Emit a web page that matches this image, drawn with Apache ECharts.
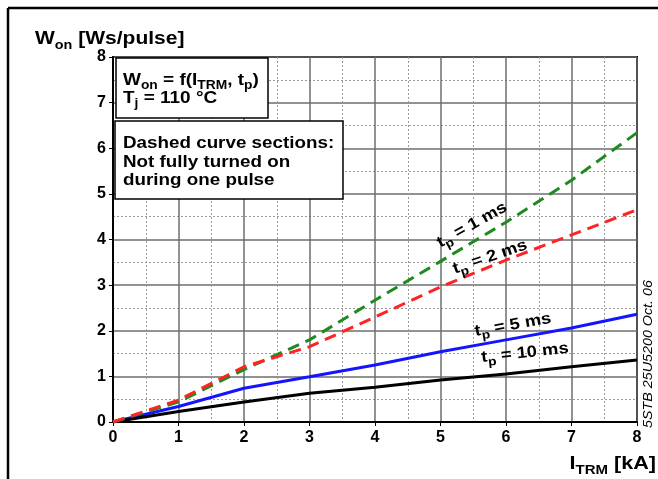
<!DOCTYPE html>
<html><head><meta charset="utf-8">
<script src="https://cdn.jsdelivr.net/npm/echarts@6/dist/echarts.min.js"></script>
<style>html,body{margin:0;padding:0;background:#fff}#c{width:658px;height:479px}</style>
</head><body><div id="c"></div>
<script>
var currents = [0, 1, 2, 3, 4, 5, 6, 7, 8];
var won_1ms  = [0, 0.44, 1.15, 1.80, 2.67, 3.52, 4.38, 5.30, 6.34];
var won_2ms  = [0, 0.48, 1.21, 1.65, 2.30, 2.96, 3.55, 4.10, 4.65];
var won_5ms  = [0, 0.34, 0.74, 0.99, 1.25, 1.54, 1.80, 2.06, 2.36];
var won_10ms = [0, 0.23, 0.44, 0.63, 0.76, 0.92, 1.05, 1.21, 1.36];
var xTicks = [0, 1, 2, 3, 4, 5, 6, 7, 8];
var yTicks = [0, 1, 2, 3, 4, 5, 6, 7, 8];

function pairs(ys){ return currents.map(function(x,i){return [x, ys[i]];}); }
var F = 'Liberation Sans, Arial, sans-serif';
function mkRich(size, sub){
  var L = Math.round(size * 1.45);
  return {
    m:{fontFamily:F,fontWeight:'bold',fontSize:size,lineHeight:L,fill:'#000'},
    s:{fontFamily:F,fontWeight:'bold',fontSize:sub,lineHeight:sub,verticalAlign:'bottom',fill:'#000'}
  };
}
var labRich = mkRich(16, 12);
function lab(n, x, y, deg){
  return {type:'text', x:x, y:y, rotation:deg*Math.PI/180, scaleX:1.15, z:20,
    style:{text:'{m|t}{s|p}{m| = '+n+' ms}', rich:labRich, align:'center', verticalAlign:'middle'}};
}
var chart = echarts.init(document.getElementById('c'));
var axisCommon = {
  type:'value', min:0, max:8, interval:1,
  axisLine:{show:true, lineStyle:{color:'#000', width:2}},
  axisTick:{show:true, length:4, lineStyle:{color:'#000', width:1}},
  axisLabel:{color:'#000', fontFamily:F, fontWeight:'bold', fontSize:16},
  splitLine:{show:true, lineStyle:{color:'#6e6e6e', width:1.5}},
  minorTick:{show:false, splitNumber:2},
  minorSplitLine:{show:true, lineStyle:{color:'#9a9a9a', width:1, type:[2,2]}}
};
chart.setOption({
  animation:false,
  grid:{left:113, top:57, right:21, bottom:57, show:true, borderColor:'#000', borderWidth:2},
  xAxis:Object.assign({}, axisCommon, {axisLabel:Object.assign({}, axisCommon.axisLabel, {margin:8})}),
  yAxis:Object.assign({}, axisCommon, {axisLabel:Object.assign({}, axisCommon.axisLabel, {margin:7})}),
  series:[
    {type:'line', data:pairs(won_1ms), symbol:'none', lineStyle:{color:'#1f8a1f', width:3, type:[12,7]}, z:5},
    {type:'line', data:pairs(won_2ms), symbol:'none', lineStyle:{color:'#ff2424', width:3, type:[12,7]}, z:6},
    {type:'line', data:pairs(won_5ms), symbol:'none', lineStyle:{color:'#1414ff', width:3}, z:4},
    {type:'line', data:pairs(won_10ms), symbol:'none', lineStyle:{color:'#000', width:3}, z:4}
  ],
  graphic:[
    {type:'line', shape:{x1:8, y1:8, x2:658, y2:8}, style:{stroke:'#000', lineWidth:2.5}},
    {type:'line', shape:{x1:8, y1:8, x2:8, y2:479}, style:{stroke:'#000', lineWidth:2.5}},
    {type:'text', x:35, y:39, scaleX:1.2, style:{text:'{m|W}{s|on}{m| [Ws/pulse]}', verticalAlign:'middle', rich:mkRich(17.5, 12)}},
    {type:'text', x:656, y:464, scaleX:1.2, style:{text:'{m|I}{s|TRM}{m| [kA]}', align:'right', verticalAlign:'middle', rich:mkRich(18, 12.5)}},
    {type:'rect', shape:{x:116, y:58, width:152, height:60}, z:10, style:{fill:'#fff', stroke:'#000', lineWidth:1.5}},
    {type:'text', x:123, y:80, scaleX:1.15, z:11, style:{verticalAlign:'middle',
      text:'{m|W}{s|on}{m| = f(I}{s|TRM}{m|, t}{s|p}{m|)}', rich:mkRich(16.5, 12)}},
    {type:'text', x:123, y:98, scaleX:1.15, z:12, style:{verticalAlign:'middle',
      text:'{m|T}{s|j}{m| = 110 °C}', rich:mkRich(16.5, 12)}},
    {type:'rect', shape:{x:115, y:121, width:228, height:78}, z:10, style:{fill:'#fff', stroke:'#000', lineWidth:1.5}},
    {type:'text', x:123, y:162, scaleX:1.14, z:11, style:{verticalAlign:'middle', fill:'#000',
      text:'Dashed curve sections:\nNot fully turned on\nduring one pulse', fontFamily:F, fontWeight:'bold', fontSize:16.5, lineHeight:18.5}},
    lab('1', 472, 225, 29),
    lab('2', 490, 257, 19),
    lab('5', 513, 325, 10),
    lab('10', 525, 353, 6),
    {type:'text', x:648, y:354, rotation:Math.PI/2, scaleX:1.1, z:11, style:{text:'5STB 25U5200 Oct. 06', align:'center', verticalAlign:'middle',
      fontFamily:F, fontStyle:'italic', fontSize:13, fill:'#000'}}
  ]
});
</script></body></html>
